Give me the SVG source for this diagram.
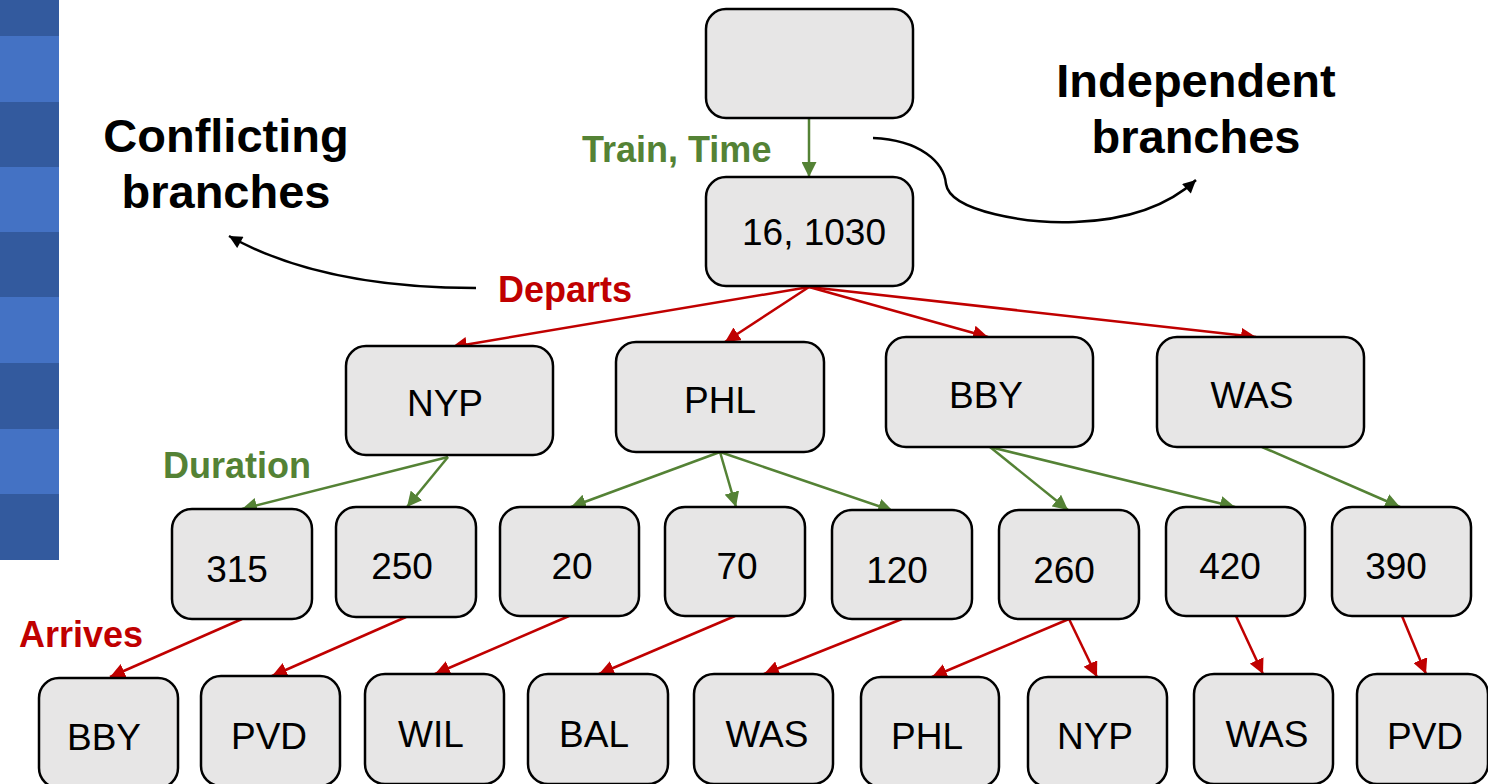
<svg xmlns="http://www.w3.org/2000/svg" width="1488" height="784" viewBox="0 0 1488 784">
<style>
.node rect{fill:#E7E6E6;stroke:#000;stroke-width:2.5}
.node text{font-family:"Liberation Sans",Arial,sans-serif;font-size:37px;fill:#000;text-anchor:middle}
.lbl{font-family:"Liberation Sans",Arial,sans-serif;font-weight:bold;font-size:36px}
.big{font-family:"Liberation Sans",Arial,sans-serif;font-weight:bold;font-size:47px;fill:#000;text-anchor:middle}
.g{stroke:#548235;stroke-width:2.5;fill:none;marker-end:url(#ag)}
.r{stroke:#C00000;stroke-width:2.5;fill:none;marker-end:url(#ar)}
.k{stroke:#000;stroke-width:2.5;fill:none;marker-end:url(#ak)}
</style>
<defs>
<marker id="ag" viewBox="0 0 10 10" refX="10" refY="5" markerUnits="userSpaceOnUse" markerWidth="15" markerHeight="15" orient="auto"><path d="M0,0L10,5L0,10z" fill="#548235"/></marker>
<marker id="ar" viewBox="0 0 10 10" refX="10" refY="5" markerUnits="userSpaceOnUse" markerWidth="15" markerHeight="15" orient="auto"><path d="M0,0L10,5L0,10z" fill="#C00000"/></marker>
<marker id="ak" viewBox="0 0 10 10" refX="10" refY="5" markerUnits="userSpaceOnUse" markerWidth="14" markerHeight="13" orient="auto"><path d="M0,0L10,5L0,10z" fill="#000"/></marker>
</defs>
<rect width="1488" height="784" fill="#fff"/>
<g id="stripe">
<rect x="0" y="0" width="59" height="560" fill="#335A9E"/>
<rect x="0" y="36" width="59" height="66" fill="#4472C4"/>
<rect x="0" y="167" width="59" height="65" fill="#4472C4"/>
<rect x="0" y="297" width="59" height="66" fill="#4472C4"/>
<rect x="0" y="429" width="59" height="65" fill="#4472C4"/>
</g>
<g id="connectors">
<line class="g" x1="809" y1="118" x2="809" y2="177"/>
<line class="g" x1="448" y1="457" x2="242" y2="509"/>
<line class="g" x1="448" y1="457" x2="407" y2="507"/>
<line class="g" x1="720" y1="452" x2="571" y2="507"/>
<line class="g" x1="720" y1="452" x2="736" y2="507"/>
<line class="g" x1="720" y1="452" x2="893" y2="511"/>
<line class="g" x1="990" y1="447" x2="1068" y2="510"/>
<line class="g" x1="990" y1="447" x2="1235" y2="507"/>
<line class="g" x1="1262" y1="447" x2="1400" y2="507"/>
<line class="r" x1="809" y1="287" x2="452" y2="347"/>
<line class="r" x1="809" y1="287" x2="725" y2="342"/>
<line class="r" x1="809" y1="287" x2="988" y2="337"/>
<line class="r" x1="809" y1="287" x2="1256" y2="337"/>
<line class="r" x1="242" y1="619" x2="110" y2="677"/>
<line class="r" x1="406" y1="617" x2="272" y2="676"/>
<line class="r" x1="569" y1="616" x2="435" y2="674"/>
<line class="r" x1="735" y1="616" x2="599" y2="674"/>
<line class="r" x1="902" y1="619" x2="764" y2="674"/>
<line class="r" x1="1069" y1="619" x2="932" y2="677"/>
<line class="r" x1="1069" y1="619" x2="1097" y2="677"/>
<line class="r" x1="1236" y1="616" x2="1263" y2="674"/>
<line class="r" x1="1402" y1="616" x2="1426" y2="674"/>
<path class="k" d="M476,288 C390,288 300,276 229,236"/>
<path class="k" d="M873,138 C920,140 944,162 946,184 C950,212 1030,224 1075,222 C1130,220 1170,204 1196,180"/>
</g>
<g id="labels">
<text class="lbl" x="582" y="162" fill="#548235">Train, Time</text>
<text class="lbl" x="498" y="302" fill="#C00000">Departs</text>
<text class="lbl" x="163" y="478" fill="#548235">Duration</text>
<text class="lbl" x="19" y="647" fill="#C00000">Arrives</text>
<text class="big" x="226" y="152">Conflicting</text>
<text class="big" x="226" y="208">branches</text>
<text class="big" x="1196" y="97">Independent</text>
<text class="big" x="1196" y="153">branches</text>
</g>
<g id="n-root" class="node"><rect x="706" y="9" width="207" height="109" rx="20"/></g>
<g id="n-train" class="node"><rect x="706" y="177" width="207" height="109" rx="20"/><text x="814" y="245">16, 1030</text></g>
<g id="n-dep-nyp" class="node"><rect x="346" y="346" width="207" height="109" rx="20"/><text x="445" y="416">NYP</text></g>
<g id="n-dep-phl" class="node"><rect x="616" y="342" width="208" height="110" rx="20"/><text x="720" y="413">PHL</text></g>
<g id="n-dep-bby" class="node"><rect x="886" y="337" width="207" height="110" rx="20"/><text x="986" y="408">BBY</text></g>
<g id="n-dep-was" class="node"><rect x="1157" y="337" width="207" height="110" rx="20"/><text x="1252" y="408">WAS</text></g>
<g id="n-d315" class="node"><rect x="172" y="509" width="140" height="110" rx="20"/><text x="237" y="582">315</text></g>
<g id="n-d250" class="node"><rect x="336" y="507" width="140" height="110" rx="20"/><text x="402" y="579">250</text></g>
<g id="n-d20" class="node"><rect x="500" y="507" width="139" height="109" rx="20"/><text x="572" y="579">20</text></g>
<g id="n-d70" class="node"><rect x="665" y="507" width="140" height="109" rx="20"/><text x="737" y="579">70</text></g>
<g id="n-d120" class="node"><rect x="832" y="510" width="140" height="109" rx="20"/><text x="897" y="583">120</text></g>
<g id="n-d260" class="node"><rect x="999" y="510" width="140" height="109" rx="20"/><text x="1064" y="583">260</text></g>
<g id="n-d420" class="node"><rect x="1166" y="507" width="139" height="109" rx="20"/><text x="1230" y="579">420</text></g>
<g id="n-d390" class="node"><rect x="1332" y="507" width="139" height="109" rx="20"/><text x="1396" y="579">390</text></g>
<g id="n-a-bby" class="node"><rect x="39" y="678" width="139" height="110" rx="20"/><text x="104" y="750">BBY</text></g>
<g id="n-a-pvd1" class="node"><rect x="201" y="676" width="139" height="110" rx="20"/><text x="269" y="749">PVD</text></g>
<g id="n-a-wil" class="node"><rect x="365" y="674" width="139" height="110" rx="20"/><text x="431" y="747">WIL</text></g>
<g id="n-a-bal" class="node"><rect x="528" y="674" width="140" height="110" rx="20"/><text x="594" y="747">BAL</text></g>
<g id="n-a-was1" class="node"><rect x="694" y="674" width="139" height="110" rx="20"/><text x="767" y="747">WAS</text></g>
<g id="n-a-phl" class="node"><rect x="861" y="677" width="138" height="110" rx="20"/><text x="927" y="749">PHL</text></g>
<g id="n-a-nyp" class="node"><rect x="1028" y="677" width="139" height="110" rx="20"/><text x="1095" y="749">NYP</text></g>
<g id="n-a-was2" class="node"><rect x="1194" y="674" width="139" height="110" rx="20"/><text x="1267" y="747">WAS</text></g>
<g id="n-a-pvd2" class="node"><rect x="1357" y="674" width="131" height="110" rx="20"/><text x="1425" y="749">PVD</text></g>
</svg>
